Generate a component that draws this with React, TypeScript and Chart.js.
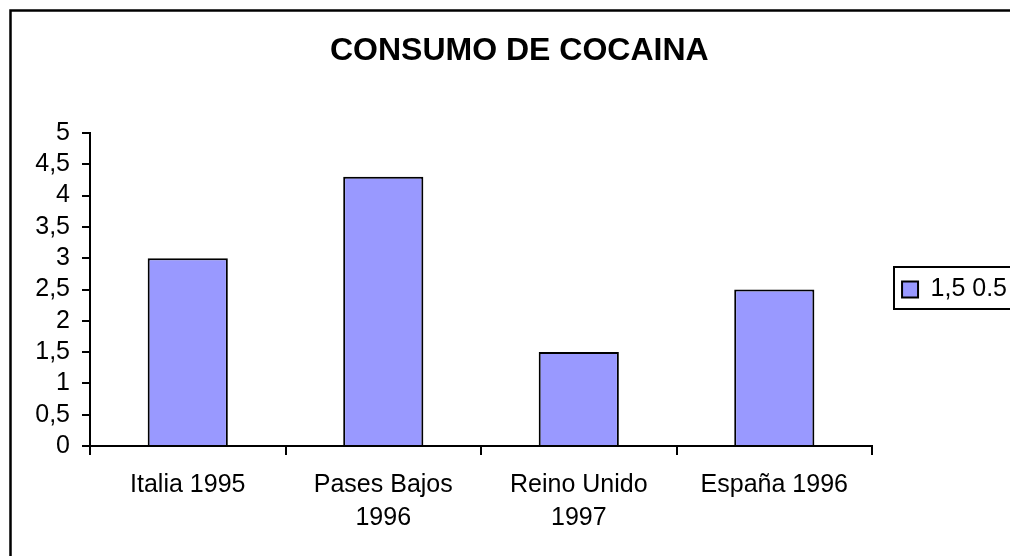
import React, { useEffect, useRef } from "react";
import { Chart, registerables } from "chart.js";

Chart.register(...registerables);

const TITLE = "CONSUMO DE COCAINA";
const CATEGORIES: (string | string[])[] = [
  "Italia 1995",
  ["Pases Bajos", "1996"],
  ["Reino Unido", "1997"],
  "España 1996",
];
const SERIES_LABEL = "1,5 0.5";
const VALUES = [3, 4.3, 1.5, 2.5];
const Y_MIN = 0;
const Y_MAX = 5;
const Y_STEP = 0.5;

const FONT = "'Liberation Sans', Arial, sans-serif";
const CANVAS_W = 1030;
const CANVAS_H = 556;

// Outer chart frame plus the bordered legend box
const framePlugin = {
  id: "frames",
  afterDraw(chart: any) {
    const ctx = chart.ctx;
    ctx.save();
    ctx.strokeStyle = "#000";
    ctx.lineWidth = 2.5;
    ctx.strokeRect(10.5, 10.5, 1015, 560);
    const hit = chart.legend && chart.legend.legendHitBoxes && chart.legend.legendHitBoxes[0];
    if (hit) {
      const cy = hit.top + hit.height / 2;
      ctx.lineWidth = 2;
      ctx.strokeRect(Math.round(hit.left) - 8, Math.round(cy) - 23, 140, 42);
    }
    ctx.restore();
  },
};

export default function App() {
  const ref = useRef<HTMLCanvasElement | null>(null);

  useEffect(() => {
    if (!ref.current) return;
    const chart = new Chart(ref.current, {
      type: "bar",
      data: {
        labels: CATEGORIES,
        datasets: [
          {
            label: SERIES_LABEL,
            data: VALUES,
            backgroundColor: "#9999FF",
            borderColor: "#000000",
            borderWidth: 2,
            borderSkipped: "bottom",
            categoryPercentage: 1,
            barPercentage: 0.41,
          },
        ],
      },
      options: {
        responsive: false,
        animation: false,
        events: [],
        layout: { padding: { left: 21.6, right: 13, top: 0, bottom: 0 } },
        plugins: {
          tooltip: { enabled: false },
          title: {
            display: true,
            text: TITLE,
            color: "#000",
            font: { family: FONT, size: 32, weight: "bold", lineHeight: 1.2 },
            padding: { top: 32, bottom: 62.6 },
          },
          legend: {
            display: true,
            position: "right",
            fullSize: false,
            labels: {
              color: "#000",
              font: { family: FONT, size: 25 },
              boxWidth: 16,
              boxHeight: 16,
              padding: 30,
            },
          },
        },
        scales: {
          x: {
            grid: {
              drawOnChartArea: false,
              color: "#000",
              lineWidth: 2,
              tickLength: 9,
              offset: true,
            },
            border: { color: "#000", width: 2 },
            ticks: {
              color: "#000",
              font: { family: FONT, size: 25, lineHeight: 1.32 },
              padding: 13.5,
              maxRotation: 0,
              autoSkip: false,
            },
            afterFit(scale: any) {
              scale.height = CANVAS_H - 446;
            },
          },
          y: {
            min: Y_MIN,
            max: Y_MAX,
            grid: {
              drawOnChartArea: false,
              color: "#000",
              lineWidth: 2,
              tickLength: 8,
            },
            border: { color: "#000", width: 2 },
            ticks: {
              stepSize: Y_STEP,
              autoSkip: false,
              color: "#000",
              font: { family: FONT, size: 25 },
              padding: 12,
              callback: (v: any) => String(v).replace(".", ","),
            },
            afterFit(scale: any) {
              scale.width = 90 - 21.6;
            },
          },
        },
      },
      plugins: [framePlugin],
    });
    return () => chart.destroy();
  }, []);

  return (
    <div
      style={{
        position: "fixed",
        left: 0,
        top: 0,
        width: 1010,
        height: 556,
        overflow: "hidden",
        background: "#fff",
      }}
    >
      <canvas ref={ref} width={CANVAS_W} height={CANVAS_H} style={{ display: "block" }} />
    </div>
  );
}
